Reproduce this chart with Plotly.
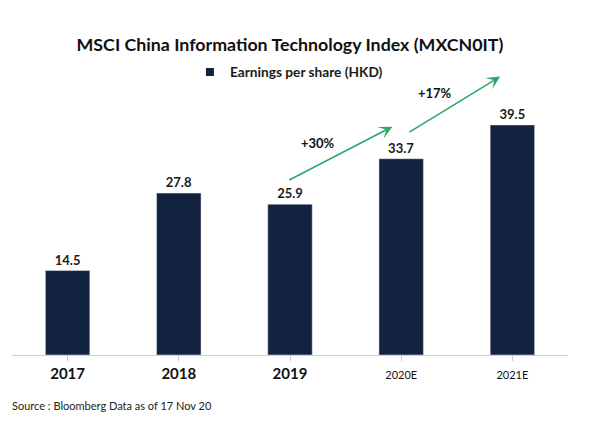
import plotly.graph_objects as go

categories = ["2017", "2018", "2019", "2020E", "2021E"]
eps_values = [14.5, 27.8, 25.9, 33.7, 39.5]
tick_labels = ["<b>2017</b>", "<b>2018</b>", "<b>2019</b>",
               "<span style='font-size:11px'>2020E</span>",
               "<span style='font-size:11px'>2021E</span>"]
growth_labels = ["+30%", "+17%"]
legend_label = "Earnings per share (HKD)"

navy = "#13233f"
green = "#2aa86b"
W, H = 584, 416
L, R, T, B = 4, 24, 82, 69
PH = H - T - B

fig = go.Figure()
fig.add_trace(go.Bar(
    x=list(range(len(categories))), y=eps_values,
    showlegend=False,
    marker_color=navy,
    text=[f"<b>{v:.1f}</b>" for v in eps_values],
    textposition="outside",
    textfont=dict(size=13, color="#1a1a1a", family="Lato"),
    cliponaxis=False,
))
fig.add_trace(go.Scatter(
    x=[None], y=[None], mode="markers", name=f"<b>{legend_label}</b>",
    marker=dict(symbol="square", size=8, color=navy),
))

fig.update_layout(
    width=W, height=H,
    margin=dict(l=L, r=R, t=T, b=B, autoexpand=False),
    plot_bgcolor="white", paper_bgcolor="white",
    bargap=0.6,
    showlegend=True,
    legend=dict(orientation="h", x=0.32, xref="paper", xanchor="left",
                y=1 - 64 / H, yref="container", yanchor="middle",
                font=dict(size=13.7, family="Lato", color="#1a1a1a"),
                itemwidth=30),
    title=dict(text="<b>MSCI China Information Technology Index (MXCN0IT)</b>",
               x=0.5, xref="paper", xanchor="center",
               y=1 - 37 / H, yref="container", yanchor="middle",
               font=dict(size=17.8, family="Lato", color="#111111")),
    font=dict(family="Lato", color="#111111"),
)

fig.update_xaxes(
    range=[-0.5, 4.5],
    tickmode="array", tickvals=list(range(len(categories))), ticktext=tick_labels,
    tickfont=dict(size=15, family="Lato", color="#111111"),
    showline=True, linecolor="#d0d0d0", linewidth=1,
    ticks="outside", tickson="boundaries", ticklen=5, tickcolor="#c8c8c8",
    showgrid=False, zeroline=False, automargin=False,
)
fig.update_yaxes(range=[0, 45.5], visible=False, showgrid=False, automargin=False)

# growth arrows
arrows = [((1.98, 29.9), (2.92, 39.2), (2.25, 36.4), growth_labels[0]),
          ((3.06, 38.1), (3.89, 47.8), (3.30, 45.0), growth_labels[1])]
for (x0, y0), (x1, y1), (tx, ty), lab in arrows:
    fig.add_annotation(x=x1, y=y1, ax=x0, ay=y0, xref="x", yref="y",
                       axref="x", ayref="y", showarrow=True, arrowhead=3,
                       arrowsize=1.4, arrowwidth=1.6, arrowcolor=green, text="")
    fig.add_annotation(x=tx, y=ty, xref="x", yref="y", showarrow=False,
                       text=f"<b>{lab}</b>", font=dict(size=13, family="Lato", color="#111111"))

fig.add_annotation(x=-0.004, y=-(397 - (H - B)) / PH, xref="paper", yref="paper",
                   xanchor="left", yanchor="middle", showarrow=False,
                   text="Source : Bloomberg Data as of 17 Nov 20",
                   font=dict(size=11, family="Lato", color="#222222"))

fig.write_html("out.html")
